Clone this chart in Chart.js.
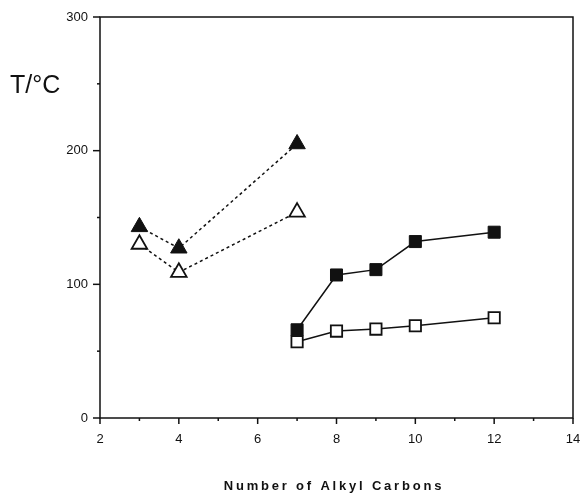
<!DOCTYPE html>
<html>
<head>
<meta charset="utf-8">
<script src="https://cdn.jsdelivr.net/npm/chart.js@4.4.0/dist/chart.umd.min.js"></script>
<style>
  html, body { margin: 0; padding: 0; background: #fff; }
  #wrap { position: relative; width: 585px; height: 495px; }
</style>
</head>
<body>
<div id="wrap"><canvas id="plot" width="585" height="495"></canvas></div>
<script>
// alkyl carbon counts
const triCarbons = [3, 4, 7];
const sqCarbons = [7, 8, 9, 10, 12];

// temperatures, deg C
const filledTri = [143, 127, 205];
const openTri = [130, 109, 154];
const filledSq = [66, 107, 111, 132, 139];
const openSq = [57, 65, 66.5, 69, 75];

const xTicks = [2, 4, 6, 8, 10, 12, 14];
const yTicks = [0, 100, 200, 300];

const yTitle = "T/°C";
const xTitle = "Number of Alkyl Carbons";

const ink = "#111";

function pts(xs, ys) {
  return xs.map((x, i) => ({ x: x, y: ys[i] }));
}

// frame, tick marks and the two titles
const decor = {
  id: "decor",
  afterDraw(chart) {
    const ctx = chart.ctx;
    const a = chart.chartArea;
    const xs = chart.scales.x;
    const ys = chart.scales.y;
    ctx.save();
    ctx.strokeStyle = ink;
    ctx.lineWidth = 1.5;
    ctx.strokeRect(a.left, a.top, a.right - a.left, a.bottom - a.top);

    xs.ticks.forEach(t => {
      const px = xs.getPixelForValue(t.value);
      const len = xTicks.includes(t.value) ? 6 : 3;
      ctx.beginPath();
      ctx.moveTo(px, a.bottom);
      ctx.lineTo(px, a.bottom + len);
      ctx.stroke();
    });
    ys.ticks.forEach(t => {
      const py = ys.getPixelForValue(t.value);
      const len = yTicks.includes(t.value) ? 7 : 3;
      ctx.beginPath();
      ctx.moveTo(a.left, py);
      ctx.lineTo(a.left - len, py);
      ctx.stroke();
    });

    ctx.fillStyle = ink;
    ctx.font = "25px 'Liberation Sans', Arial, sans-serif";
    ctx.textAlign = "left";
    ctx.textBaseline = "middle";
    ctx.fillText(yTitle, 10, 86);

    ctx.font = "bold 13px 'Liberation Sans', Arial, sans-serif";
    ctx.letterSpacing = "2.8px";
    ctx.textAlign = "center";
    ctx.fillText(xTitle, 334, 486);
    ctx.restore();
  }
};

const tickFont = { family: "'Liberation Sans', Arial, sans-serif", size: 13 };

new Chart(document.getElementById("plot"), {
  type: "scatter",
  data: {
    datasets: [
      {
        data: pts(triCarbons, filledTri),
        showLine: true,
        borderColor: ink,
        borderWidth: 1.5,
        borderDash: [3, 3],
        pointStyle: "triangle",
        pointRadius: 9.5,
        pointBackgroundColor: ink,
        pointBorderColor: ink,
        pointBorderWidth: 1
      },
      {
        data: pts(triCarbons, openTri),
        showLine: true,
        borderColor: ink,
        borderWidth: 1.5,
        borderDash: [3, 3],
        pointStyle: "triangle",
        pointRadius: 9,
        pointBackgroundColor: "#fff",
        pointBorderColor: ink,
        pointBorderWidth: 1.8
      },
      {
        data: pts(sqCarbons, filledSq),
        showLine: true,
        borderColor: ink,
        borderWidth: 1.5,
        pointStyle: "rect",
        pointRadius: 8.5,
        pointBackgroundColor: ink,
        pointBorderColor: ink,
        pointBorderWidth: 1
      },
      {
        data: pts(sqCarbons, openSq),
        showLine: true,
        borderColor: ink,
        borderWidth: 1.5,
        pointStyle: "rect",
        pointRadius: 8,
        pointBackgroundColor: "#fff",
        pointBorderColor: ink,
        pointBorderWidth: 1.8
      }
    ]
  },
  options: {
    responsive: false,
    animation: false,
    layout: { padding: { left: 0, top: 17, right: 12, bottom: 0 } },
    plugins: {
      legend: { display: false },
      tooltip: { enabled: false }
    },
    scales: {
      x: {
        type: "linear",
        min: 2,
        max: 14,
        afterFit: s => { s.height = 77; s.paddingLeft = 0; s.paddingRight = 0; },
        grid: { display: false, drawTicks: false, tickLength: 0 },
        border: { display: false },
        ticks: {
          stepSize: 1,
          padding: 14,
          color: ink,
          font: tickFont,
          maxRotation: 0,
          autoSkip: false,
          callback: v => (xTicks.includes(v) ? String(v) : "")
        }
      },
      y: {
        min: 0,
        max: 300,
        afterFit: s => { s.width = 100; s.paddingTop = 0; s.paddingBottom = 0; },
        grid: { display: false, drawTicks: false, tickLength: 0 },
        border: { display: false },
        ticks: {
          stepSize: 50,
          padding: 12,
          color: ink,
          font: tickFont,
          autoSkip: false,
          callback: v => (yTicks.includes(v) ? String(v) : "")
        }
      }
    }
  },
  plugins: [decor]
});
</script>
</body>
</html>
